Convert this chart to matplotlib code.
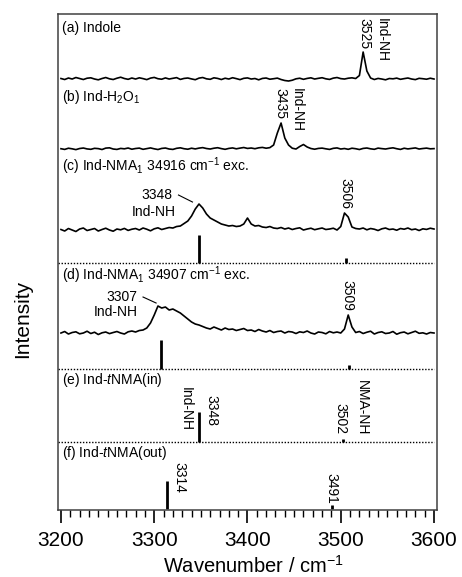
import numpy as np
import matplotlib
matplotlib.use('Agg')
import matplotlib.pyplot as plt
from matplotlib.ticker import MultipleLocator

plt.rcParams['font.family'] = ['Liberation Sans', 'DejaVu Sans']
plt.rcParams['mathtext.fontset'] = 'custom'
plt.rcParams['mathtext.rm'] = 'Liberation Sans'
plt.rcParams['mathtext.it'] = 'Liberation Sans:italic'
plt.rcParams['mathtext.bf'] = 'Liberation Sans:bold'

# wavenumber grid of the measured spectra (cm-1)
wn = np.arange(3200, 3601, 4)

# IR intensities (arbitrary units)
indole = [0.5, -0.5, 1.0, 0.0, 1.5, 0.5, -0.5, 0.8, 1.2, 0.0,
          -0.8, 0.5, 1.5, 0.2, -0.5, 0.8, 1.8, 0.5, -0.3, 1.0,
          0.0, 1.2, 0.4, -0.6, 0.9, 1.6, 0.3, -0.2, 1.1, 0.0,
          0.7, 1.4, -0.4, 0.6, 1.0, 0.1, -0.7, 0.9, 1.5, 0.2,
          -0.3, 1.2, 0.6, -0.5, 0.8, 0.0, 1.3, 0.4, -0.6, 0.7,
          1.1, 0.0, 0.5, -0.8, 0.6, 1.0, -0.2, 0.3, 0.9, -0.5,
          -1.5, -2.0, -1.2, 0.2, 0.8, -0.3, 0.6, 1.2, 0.0, 0.7,
          1.3, 0.2, -0.4, 0.9, 1.5, 0.4, 0.0, 0.8, 1.2, 0.5,
          3.5, 27.0, 8.0, 1.0, -0.5, 0.6, 0.0, -0.8, 0.5, 0.2,
          0.9, -0.3, 0.4, 1.0, 0.0, -0.6, 0.7, 0.3, -0.2, 0.8,
          0.0]
ind_h2o = [0.3, -0.4, 0.8, 0.2, -0.6, 0.5, 1.0, 0.1, -0.3, 0.7,
           0.4, -0.5, 0.9, 1.2, 0.0, -0.4, 0.6, 0.2, 1.0, -0.2,
           0.5, 0.9, -0.3, 0.4, 1.1, 0.2, -0.5, 0.6, 1.0, 0.0,
           -0.4, 0.7, 1.2, 0.3, -0.2, 0.8, 0.1, 0.9, 1.4, 0.5,
           0.0, 0.8, 1.3, 0.4, -0.3, 0.6, 1.1, 0.2, 0.9, 1.5,
           0.6, 1.0, 0.3, 1.2, 1.6, 0.8, 1.4, 4.0, 16.0, 26.0,
           11.0, 4.0, 0.8, 0.0, 2.5, 4.5, 2.0, 0.5, -0.2, 0.6,
           0.9, 0.2, -0.4, 0.7, 1.1, 0.0, 0.5, -0.3, 0.8, 0.3,
           -0.5, 0.6, 1.0, 0.2, -0.3, 0.9, 0.4, 0.0, 0.7, 1.2,
           0.3, -0.4, 0.8, 0.1, 0.6, 1.1, 0.0, 0.5, 0.9, 0.2,
           0.4]
nma_34916 = [0.5, -1.0, 1.5, 0.0, -1.5, 1.0, 2.0, -0.5, 0.5, 1.5,
             -1.0, 0.5, 1.8, 0.0, -1.2, 1.0, 0.2, 1.6, -0.4, 0.8,
             1.5, 0.0, 2.0, 0.8, -0.8, 1.2, 2.2, 0.5, 1.5, 2.5,
             2.0, 3.5, 4.0, 6.5, 9.0, 14.0, 21.0, 26.0, 22.0, 16.0,
             12.0, 10.0, 8.0, 6.0, 5.0, 4.0, 4.5, 3.5, 4.0, 6.0,
             12.0, 6.0, 4.0, 4.5, 3.0, 2.5, 3.5, 2.0, 1.5, 2.5,
             1.0, 2.0, 0.5, 1.5, 2.2, 0.0, 1.0, 1.8, 0.3, 1.2,
             2.0, 0.5, 1.0, 1.8, 0.0, 3.5, 17.0, 13.0, 3.0, 1.5,
             1.0, 2.0, 0.2, 1.5, 0.8, -0.5, 1.2, 2.0, 0.5, 1.0,
             -0.2, 1.5, 0.8, 2.0, 0.3, 1.0, -0.5, 1.2, 0.6, 1.8,
             1.0]
nma_34907 = [0.0, 1.5, -1.0, 0.5, 1.2, -0.8, 0.0, 1.8, -0.5, 0.8,
             -1.5, 0.2, 1.0, -0.6, 0.5, 1.5, 0.0, -1.0, 1.2, 2.0,
             1.0, 2.5, 3.0, 5.0, 10.0, 18.0, 27.0, 25.0, 26.0, 23.0,
             24.0, 22.0, 20.0, 17.0, 14.0, 11.0, 9.0, 8.0, 6.5, 5.0,
             4.0, 6.0, 4.5, 3.0, 5.0, 3.5, 4.0, 2.5, 3.5, 4.5,
             2.5, 3.0, 1.5, 3.5, 2.0, 1.0, 2.5, 0.5, 1.5, 2.0,
             0.0, 1.5, 1.0, -0.5, 1.2, 0.5, 2.0, 0.0, -1.0, 1.0,
             0.5, -0.8, 1.5, 0.2, 1.0, 0.0, 4.0, 18.0, 6.0, 0.5,
             1.5, -0.5, 0.8, 1.8, -1.0, 0.5, 1.2, -0.5, 0.0, 1.5,
             -1.2, 0.3, 1.0, -0.8, 0.5, 1.8, -0.3, 0.2, -1.0, 0.5,
             0.0]

# calculated stick spectra
c_stick_pos = [3348, 3506]
c_stick_int = [28, 5]
d_stick_pos = [3307, 3509]
d_stick_int = [29, 4]
e_stick_pos = [3348, 3502]
e_stick_int = [30, 3]
f_stick_pos = [3314, 3491]
f_stick_int = [28, 4]

# vertical offsets of each panel
off_a, off_b, off_c, off_c_st = 431, 361, 280, 247
off_d, off_d_st, off_e, off_f = 177, 141, 68, 1.5

fig = plt.figure(figsize=(4.62, 5.77), dpi=100)
ax = fig.add_axes([0.1255, 0.1161, 0.8204, 0.8596])

for off, y in [(off_a, indole), (off_b, ind_h2o), (off_c, nma_34916), (off_d, nma_34907)]:
    ax.plot(wn, off + np.array(y), color='k', lw=1.2)

for off in [off_c_st, off_d_st, off_e]:
    ax.plot([3197, 3600], [off, off], color='k', lw=1.0, ls=(0, (1, 1.2)))

for off, pos, h in [(off_c_st, c_stick_pos, c_stick_int), (off_d_st, d_stick_pos, d_stick_int),
                    (off_e, e_stick_pos, e_stick_int), (off_f, f_stick_pos, f_stick_int)]:
    ax.vlines(pos, off, off + np.array(h), color='k', lw=2)

fs = 10
lx = 3201
ax.text(lx, 482, '(a) Indole', fontsize=fs, va='center')
ax.text(lx, 413, '(b) Ind-H$_2$O$_1$', fontsize=fs, va='center')
ax.text(lx, 344, '(c) Ind-NMA$_1$ 34916 cm$^{-1}$ exc.', fontsize=fs, va='center')
ax.text(lx, 235, '(d) Ind-NMA$_1$ 34907 cm$^{-1}$ exc.', fontsize=fs, va='center')
ax.text(lx, 130, '(e) Ind-$t$NMA(in)', fontsize=fs, va='center')
ax.text(lx, 57, '(f) Ind-$t$NMA(out)', fontsize=fs, va='center')

def vlabel(x, y, s):
    ax.text(x, y, s, rotation=-90, ha='center', va='top', fontsize=fs)

vlabel(3525, 492, '3525')
vlabel(3544, 492, 'Ind-NH')
vlabel(3435.5, 422, '3435')
vlabel(3453, 422, 'Ind-NH')
vlabel(3505, 332, '3506')
vlabel(3507, 230, '3509')
vlabel(3334, 123, 'Ind-NH')
vlabel(3361, 115, '3348')
vlabel(3500, 107, '3502')
vlabel(3522.5, 130, 'NMA-NH')
vlabel(3327.5, 48, '3314')
vlabel(3490, 37, '3491')

ax.text(3303, 315, '3348', ha='center', va='center', fontsize=fs)
ax.text(3300, 298, 'Ind-NH', ha='center', va='center', fontsize=fs)
ax.plot([3326, 3341], [315, 308], color='k', lw=0.8)
ax.text(3265.5, 213, '3307', ha='center', va='center', fontsize=fs)
ax.text(3259, 198, 'Ind-NH', ha='center', va='center', fontsize=fs)
ax.plot([3288, 3302], [213, 207], color='k', lw=0.8)

ax.set_xlim(3196.8, 3603.2)
ax.set_ylim(0, 496)
ax.set_yticks([])
ax.xaxis.set_major_locator(MultipleLocator(100))
ax.xaxis.set_minor_locator(MultipleLocator(10))
ax.tick_params(axis='x', which='major', direction='out', length=9, width=1.2,
               labelsize=15, pad=6)
ax.tick_params(axis='x', which='minor', direction='out', length=5, width=1.0)
for sp in ax.spines.values():
    sp.set_color('#404040')
    sp.set_linewidth(1.1)

fig.text(0.548, 0.008, 'Wavenumber / cm$^{-1}$', ha='center', va='baseline', fontsize=14.5)
fig.text(0.05, 0.447, 'Intensity', rotation=90, ha='center', va='center', fontsize=15)

fig.savefig('out.png', dpi=100)
